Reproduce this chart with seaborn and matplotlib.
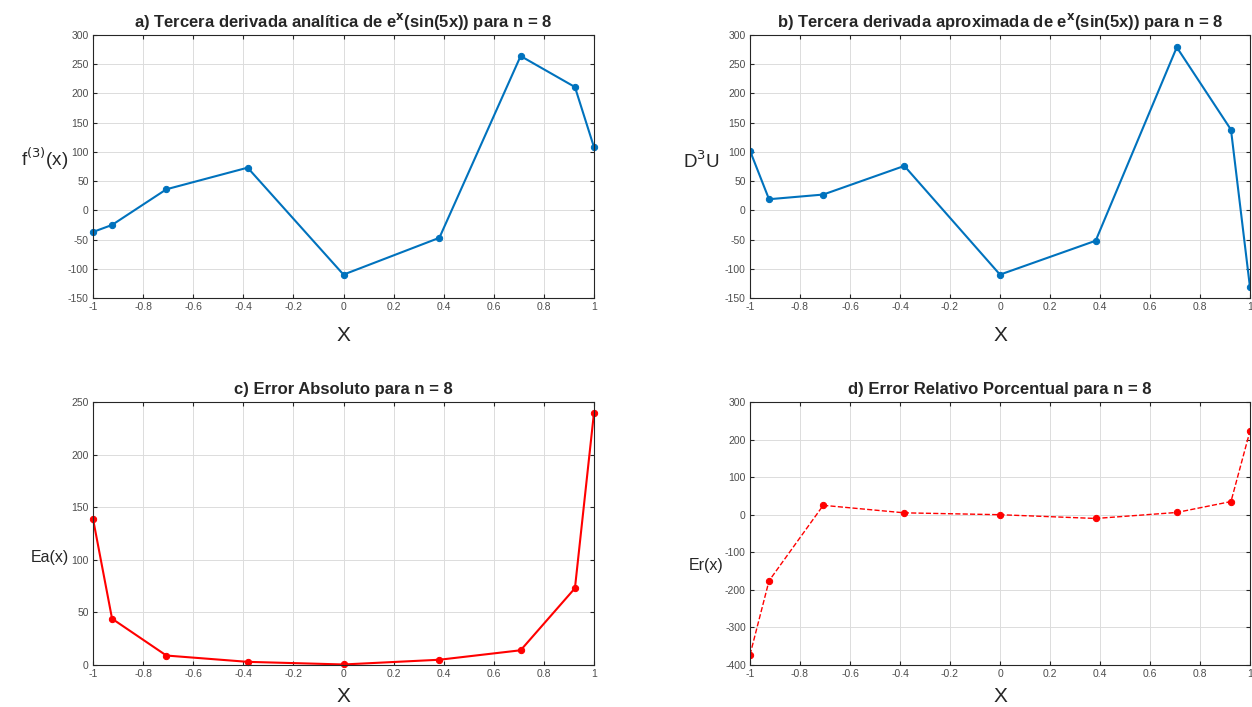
import numpy as np
import pandas as pd
import matplotlib
matplotlib.use('Agg')
import matplotlib.pyplot as plt
import seaborn as sns

sns.set_style('whitegrid')
plt.rcParams['font.family'] = ['Liberation Sans', 'DejaVu Sans']

# Chebyshev nodes for n = 8
x = [-1.0, -0.9239, -0.7071, -0.3827, 0.0, 0.3827, 0.7071, 0.9239, 1.0]

# third derivative, analytic and approximated
d3_exact = [-37, -25, 36, 73, -110, -47, 264, 211, 108]
d3_approx = [102, 19, 27, 76, -110, -52, 279, 138, -132]

# errors
err_abs = [139, 44, 9, 3, 0.5, 5, 14, 73, 240]
err_rel = [-373, -176, 25, 5, 0, -10, 6, 35, 223]

xticks = [-1, -0.8, -0.6, -0.4, -0.2, 0, 0.2, 0.4, 0.6, 0.8, 1]
xticklabels = ['-1', '-0.8', '-0.6', '-0.4', '-0.2', '0', '0.2', '0.4', '0.6', '0.8', '1']

blue = '#0072BD'
red = '#FF0000'

W, H = 1252, 707
fig = plt.figure(figsize=(W / 100, H / 100), dpi=100)


def make_ax(left, top, right, bottom):
    return fig.add_axes([left / W, 1 - bottom / H, (right - left) / W, (bottom - top) / H])


def style(ax, title, ylabel, ylab_xy, ylab_size, yticks, xlab_y):
    ax.set_xlim(-1, 1)
    ax.set_xticks(xticks)
    ax.set_xticklabels(xticklabels)
    ax.set_yticks(yticks)
    ax.set_ylim(yticks[0], yticks[-1])
    ax.set_yticklabels([str(v) for v in yticks])
    ax.tick_params(direction='in', length=3, labelsize=7.5, labelcolor='#4d4d4d',
                   color='#262626', top=True, right=True, bottom=True, left=True, pad=3)
    ax.grid(True, color='#dcdcdc', linewidth=0.7)
    for sp in ax.spines.values():
        sp.set_color('#262626')
        sp.set_linewidth(0.8)
    ax.set_title(title, fontsize=12, fontweight='bold', pad=6)
    ax.set_xlabel('X', fontsize=15, color='#262626')
    ax.xaxis.set_label_coords(0.5, xlab_y)
    ax.set_ylabel(ylabel, fontsize=ylab_size, rotation=0, color='#262626')
    ax.yaxis.set_label_coords(*ylab_xy)


df = pd.DataFrame({'x': x, 'a': d3_exact, 'b': d3_approx, 'c': err_abs, 'd': err_rel})

ax1 = make_ax(93, 35, 594, 298)
sns.lineplot(data=df, x='x', y='a', ax=ax1, color=blue, marker='o', markersize=4.5,
             markeredgecolor=blue, linewidth=1.5, clip_on=False)
style(ax1, r'a) Tercera derivada analítica de e$^{\mathbf{x}}$(sin(5x)) para n = 8',
      r'f$^{(3)}$(x)', (-0.096, 0.48), 13.5, [-150, -100, -50, 0, 50, 100, 150, 200, 250, 300],
      -0.105)

ax2 = make_ax(750, 35, 1250, 298)
sns.lineplot(data=df, x='x', y='b', ax=ax2, color=blue, marker='o', markersize=4.5,
             markeredgecolor=blue, linewidth=1.5)
style(ax2, r'b) Tercera derivada aproximada de e$^{\mathbf{x}}$(sin(5x)) para n = 8',
      r'D$^{3}$U', (-0.098, 0.48), 13.5, [-150, -100, -50, 0, 50, 100, 150, 200, 250, 300],
      -0.105)

ax3 = make_ax(93, 402, 594, 665)
sns.lineplot(data=df, x='x', y='c', ax=ax3, color=red, marker='o', markersize=4.5,
             markeredgecolor=red, linewidth=1.5, clip_on=False)
style(ax3, 'c) Error Absoluto para n = 8', 'Ea(x)', (-0.086, 0.38), 11.5,
      [0, 50, 100, 150, 200, 250], -0.085)

ax4 = make_ax(750, 402, 1250, 665)
sns.lineplot(data=df, x='x', y='d', ax=ax4, color=red, marker='o', markersize=4.5,
             markeredgecolor=red, linewidth=1.0, linestyle='--', dashes=(6, 4))
style(ax4, 'd) Error Relativo Porcentual para n = 8', 'Er(x)', (-0.088, 0.35), 11.5,
      [-400, -300, -200, -100, 0, 100, 200, 300], -0.085)

fig.savefig('out.png', dpi=100, facecolor='white')
